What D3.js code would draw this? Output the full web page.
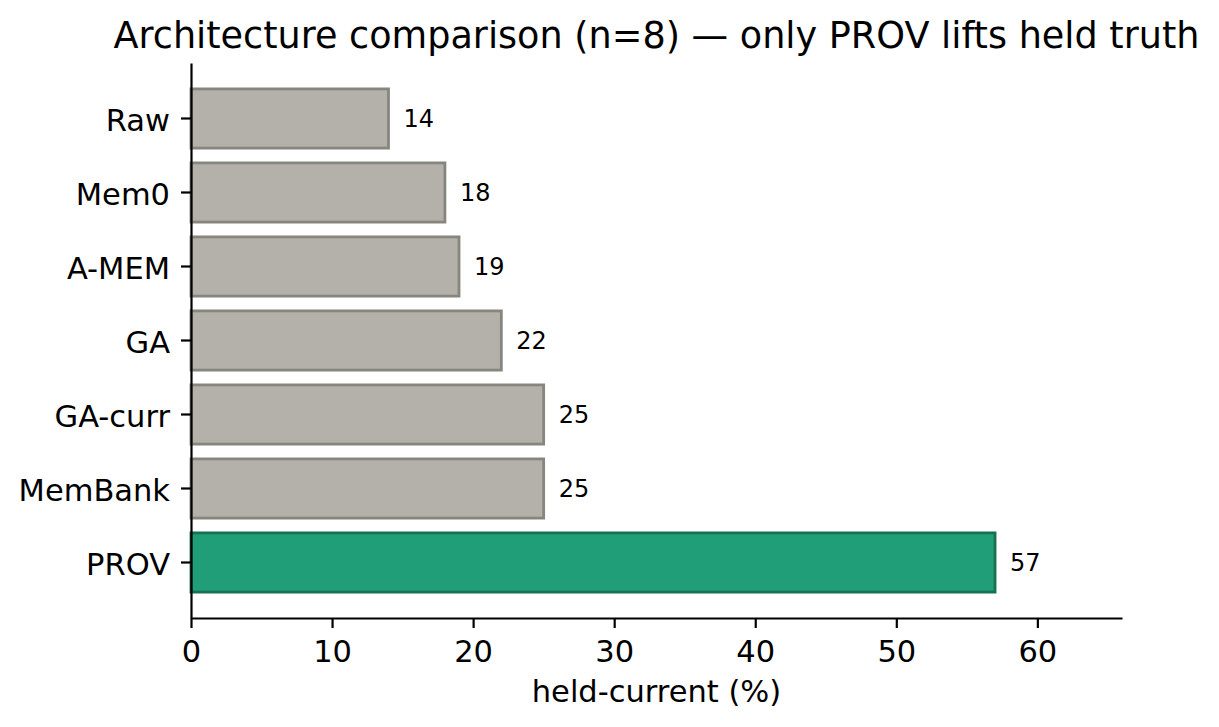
<!DOCTYPE html>
<html>
<head>
<meta charset="utf-8">
<script src="https://cdn.jsdelivr.net/npm/d3@7"></script>
<style>
  body { margin: 0; background: #fff; }
  svg { display: block; font-family: 'DejaVu Sans', sans-serif; }
</style>
</head>
<body>
<svg id="chart"></svg>
<script>
// values, top to bottom
const categories = ['Raw', 'Mem0', 'A-MEM', 'GA', 'GA-curr', 'MemBank', 'PROV']
const values = [14, 18, 19, 22, 25, 25, 57]
const highlighted = ['PROV']
const xTicks = [0, 10, 20, 30, 40, 50, 60]
const xMax = 66

const width = 1219
const height = 727
const margin = ({top: 63, right: 97, bottom: 109, left: 191})

const data = categories.map((c, i) => ({name: c, value: values[i]}))

const x = d3.scaleLinear()
  .domain([0, xMax])
  .range([margin.left, width - margin.right])

const y = d3.scaleBand()
  .domain(categories)
  .range([margin.top, height - margin.bottom])
  .paddingInner(0.2)
  .paddingOuter(0.35)

const svg = d3.select('#chart')
  .attr('width', width)
  .attr('height', height)

// bars
svg.append('g')
  .selectAll('rect')
  .data(data)
  .join('rect')
    .attr('x', x(0))
    .attr('y', d => y(d.name))
    .attr('width', d => x(d.value) - x(0))
    .attr('height', y.bandwidth())
    .attr('fill', d => highlighted.includes(d.name) ? '#1f9e77' : '#b4b1aa')
    .attr('stroke', d => highlighted.includes(d.name) ? '#15714f' : '#86867e')
    .attr('stroke-width', 2.8)

// value labels
svg.append('g')
  .selectAll('text')
  .data(data)
  .join('text')
    .attr('x', d => x(d.value) + 15)
    .attr('y', d => y(d.name) + y.bandwidth() / 2)
    .attr('dy', '0.37em')
    .attr('font-size', 24)
    .attr('fill', '#000')
    .text(d => d.value)

// axes
const xAxis = svg.append('g')
  .attr('transform', `translate(0, ${height - margin.bottom})`)
  .call(d3.axisBottom(x).tickValues(xTicks).tickSize(10).tickSizeOuter(0).tickPadding(12))

const yAxis = svg.append('g')
  .attr('transform', `translate(${margin.left}, 0)`)
  .call(d3.axisLeft(y).tickSize(10).tickSizeOuter(0).tickPadding(11))

for (const ax of [xAxis, yAxis]) {
  ax.attr('font-family', null).attr('font-size', null)
  ax.select('.domain').attr('stroke', '#000').attr('stroke-width', 2.2)
  ax.selectAll('.tick line').attr('stroke', '#000').attr('stroke-width', 2.2)
  ax.selectAll('.tick text').attr('fill', '#000').attr('font-size', 30.5)
}
yAxis.selectAll('.tick text').attr('dy', '0.41em')

// x axis label
svg.append('text')
  .attr('x', (margin.left + width - margin.right) / 2)
  .attr('y', 702)
  .attr('text-anchor', 'middle')
  .attr('font-size', 30.5)
  .attr('fill', '#000')
  .text('held-current (%)')

// title
svg.append('text')
  .attr('x', (margin.left + width - margin.right) / 2)
  .attr('y', 48)
  .attr('text-anchor', 'middle')
  .attr('font-size', 36.6)
  .attr('fill', '#000')
  .text('Architecture comparison (n=8) — only PROV lifts held truth')
</script>
</body>
</html>
